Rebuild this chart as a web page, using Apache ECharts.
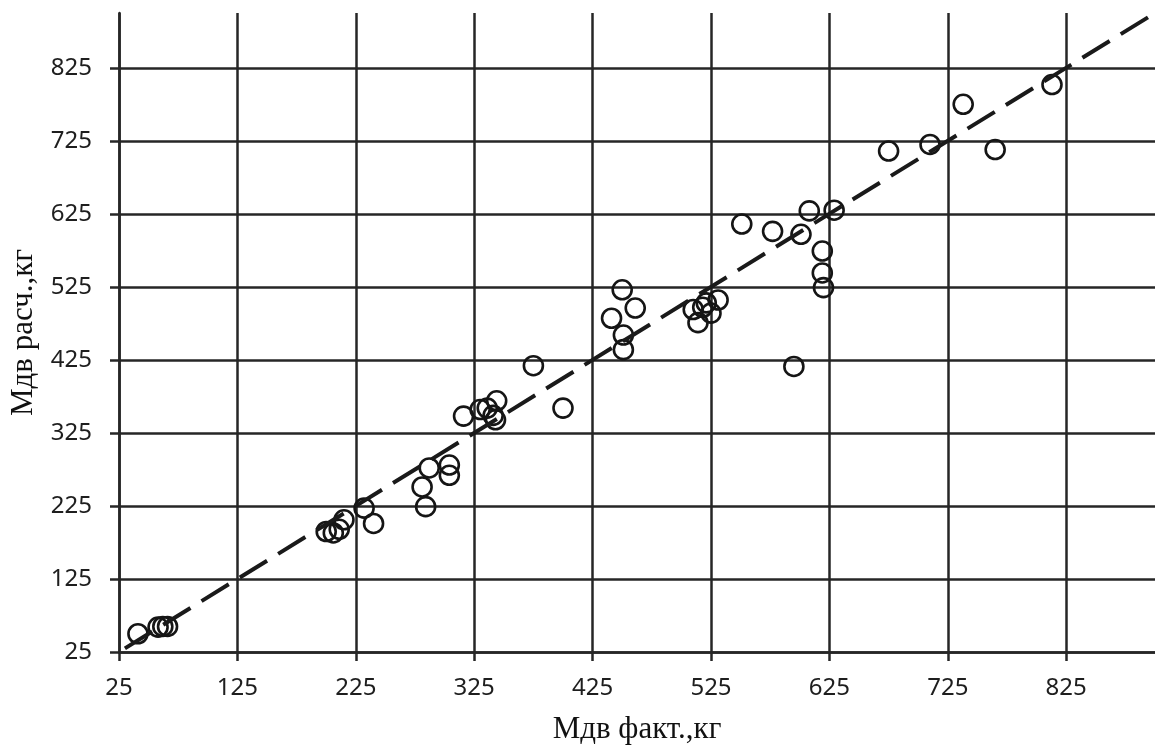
<!DOCTYPE html>
<html>
<head>
<meta charset="utf-8">
<script src="https://cdn.jsdelivr.net/npm/echarts@6/dist/echarts.min.js"></script>
<style>
  html, body { margin: 0; padding: 0; background: #fff; }
  #graph { width: 1155px; height: 751px; }
</style>
</head>
<body>
<div id="graph"></div>
<script>
// Мдв факт. (x) vs Мдв расч. (y), kg
const factX = [
  41, 58, 62, 66,
  200, 206, 211, 215, 232, 240,
  281, 284, 287, 304, 304,
  316, 330, 336, 341, 343, 344,
  375, 400,
  441, 450, 451, 451, 461,
  510, 514, 518, 521, 525, 531,
  551, 577, 595, 601, 608, 619, 619, 620, 629,
  675, 710, 738, 765, 813
];
const calcY = [
  50, 59, 60, 60,
  190, 188, 193, 206, 222, 201,
  251, 224, 277, 281, 267,
  348, 357, 359, 349, 343, 369,
  417, 359,
  482, 521, 459, 439, 496,
  494, 476, 497, 503, 489, 507,
  611, 601, 416, 597, 629, 574, 544, 524, 630,
  711, 720, 775, 713, 802
];
const tickValues = [25, 125, 225, 325, 425, 525, 625, 725, 825];
const fitLine = [[30, 30], [900, 900]];

const points = factX.map((x, i) => [x, calcY[i]]);

const chart = echarts.init(document.getElementById('graph'));

const lineClr = '#262626';
const tickFont = { color: '#1e1e1e', fontSize: 24, fontFamily: 'Noto Sans' };
const nameFont = { color: '#111', fontSize: 31, fontFamily: 'Liberation Serif' };

function axis(name, gap, margin) {
  return {
    type: 'value',
    min: 25,
    max: 900,
    name: name,
    nameLocation: 'middle',
    nameGap: gap,
    nameTextStyle: nameFont,
    axisLine: { show: true, lineStyle: { color: lineClr, width: 2.5 } },
    axisTick: {
      show: true, length: 9, customValues: tickValues,
      lineStyle: { color: lineClr, width: 2.5 }
    },
    axisLabel: Object.assign({ customValues: tickValues, margin: margin }, tickFont),
    splitLine: { show: true, lineStyle: { color: lineClr, width: 2.5 } }
  };
}

chart.setOption({
  backgroundColor: '#fff',
  animation: false,
  grid: { left: 117, right: -2, top: 13, bottom: 99, containLabel: false },
  xAxis: axis('Мдв факт.,кг', 62, 24),
  yAxis: axis('Мдв расч.,кг', 80, 27),
  series: [
    {
      type: 'scatter',
      data: points,
      symbol: 'circle',
      symbolSize: 19,
      itemStyle: { color: 'rgba(0,0,0,0)', borderColor: '#151515', borderWidth: 2.6, opacity: 1 }
    },
    {
      type: 'line',
      data: fitLine,
      symbol: 'none',
      lineStyle: { color: '#1a1a1a', width: 4, type: [32, 13], cap: 'butt' }
    }
  ]
});
</script>
</body>
</html>
